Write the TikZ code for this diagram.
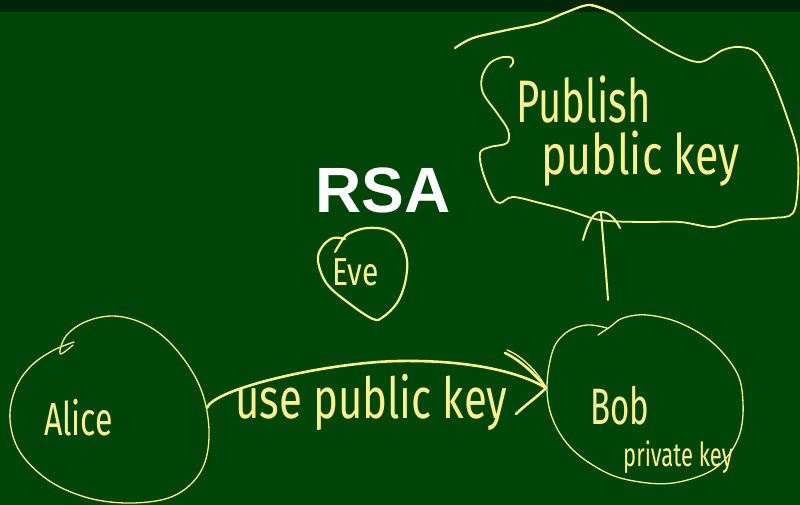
\documentclass[tikz,border=0pt]{standalone}
\usepackage{fontspec}
\usepackage{graphicx}
\newfontfamily\handfont{Fira Sans}
\newfontfamily\rsafont{Liberation Sans}
\definecolor{board}{RGB}{0,69,8}
\definecolor{strip}{RGB}{0,38,8}
\definecolor{chalk}{RGB}{255,242,140}
\begin{document}
\begin{tikzpicture}[x=1pt,y=-1pt,
  chalkline/.style={draw=chalk,line width=1.3pt,line cap=round,line join=round},
  thickline/.style={draw=chalk,line width=2.6pt,line cap=round,line join=round},
  handtext/.style={text=chalk,inner sep=0pt,anchor=base west}]
\fill[board] (0,0) rectangle (800,505);
\fill[strip] (0,0) rectangle (800,12);
\useasboundingbox (0,0) rectangle (800,505);

% title
\node[text=white,inner sep=0pt,anchor=base,font=\rsafont\bfseries\fontsize{64}{70}\selectfont] (rsa) at (383,212) {RSA};

% Alice circle
\draw[chalkline] plot[smooth,tension=0.6] coordinates {(73,345) (60,354) (66,336) (85,322) (112,316) (140,322) (165,338) (188,365) (203,395) (209,430) (205,462) (190,485) (165,499) (125,503) (85,497) (48,480) (20,452) (10,420) (15,390) (30,367) (52,351) (74,342)};
\node[handtext,font=\handfont\fontsize{32}{38}\selectfont] (alice) at (44,435) {\scalebox{1}[1.45]{Alice}};

% Eve circle
\draw[chalkline,line width=2.2pt] plot[smooth,tension=0.6] coordinates {(335,252) (343,239) (350,233) (367,228) (387,230) (400,241) (407,260) (405,283) (397,303) (383,317) (373,319) (350,304) (327,284) (318,261) (322,247) (333,238) (345,239)};
\node[handtext,font=\handfont\fontsize{30}{36}\selectfont] (eve) at (332,285) {\scalebox{1}[1.3]{Eve}};

% Bob circle
\draw[chalkline] plot[smooth,tension=0.6] coordinates {(598,335) (610,327) (623,318) (647,315) (680,323) (713,343) (737,373) (743,403) (740,433) (727,457) (707,473) (673,483) (640,482) (607,473) (573,450) (553,420) (547,387) (553,350) (567,332) (587,325) (607,328)};
\node[handtext,font=\handfont\fontsize{33}{40}\selectfont] (bob) at (590,424) {\scalebox{1}[1.55]{Bob}};
\node[handtext,font=\handfont\fontsize{22}{26}\selectfont] (priv) at (623,466) {\scalebox{1}[1.5]{private key}};

% Publish cloud
\draw[chalkline,line width=2.2pt] plot[smooth,tension=0.55] coordinates {(455,48) (473,38) (507,30) (540,23) (567,12) (590,5) (613,13)};
\draw[chalkline,line width=1.8pt] plot[smooth,tension=0.55] coordinates {(590,5) (613,13) (640,33) (673,53) (700,62) (723,50) (740,47) (757,53) (773,80) (787,117) (797,150) (798,183) (793,213) (773,218) (740,220) (713,227) (680,222) (640,222) (600,220) (567,210) (540,203) (513,197) (500,203) (493,197) (483,173) (480,153) (490,147) (507,143) (508,130) (497,113) (483,93) (482,77) (490,63) (503,57) (512,58) (513,63) (510,67)};
\node[handtext,font=\handfont\fontsize{40}{48}\selectfont] (publish) at (516,123) {\scalebox{1}[1.5]{Publish}};
\node[handtext,font=\handfont\fontsize{43}{50}\selectfont] (pubkey) at (541,175) {\scalebox{1}[1.3]{public key}};

% connectors
\coordinate (aliceR) at (207,408);
\coordinate (bobL) at (546,388);
\coordinate (bobT) at (608,300);
\coordinate (cloudB) at (601,212);

\draw[thickline] (aliceR) .. controls (214,388) and (330,362) .. (400,361) .. controls (470,360) and (520,372) .. (bobL);
\draw[thickline] (505,353) .. controls (520,360) and (535,374) .. (bobL);
\draw[chalkline] (507,350) .. controls (522,356) and (538,372) .. (bobL);
\draw[thickline] (516,414) .. controls (524,406) and (536,398) .. (bobL);
\node[handtext,font=\handfont\fontsize{42}{50}\selectfont] (usekey) at (235,418) {\scalebox{1}[1.35]{use public key}};

\draw[chalkline,line width=2pt] (bobT) .. controls (606,270) and (603,240) .. (cloudB);
\draw[chalkline,line width=2pt] (583,240) .. controls (588,222) and (594,211) .. (cloudB) .. controls (610,212) and (616,220) .. (620,228);
\end{tikzpicture}
\end{document}
